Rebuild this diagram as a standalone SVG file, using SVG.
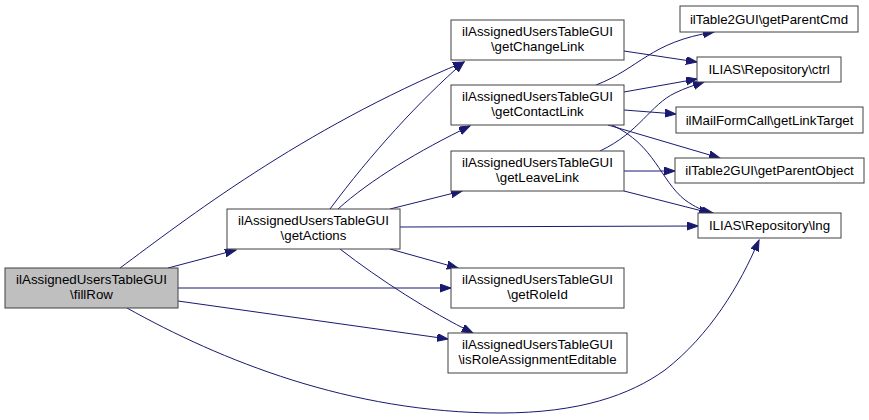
<svg xmlns="http://www.w3.org/2000/svg" width="869" height="420" viewBox="0 0 869 420">
<style>
.n rect{fill:#fff;stroke:#404040;stroke-width:1}
.n text{font-family:"Liberation Sans",Arial,sans-serif;font-size:13.3px;text-anchor:middle;fill:#000}
.e path{fill:none;stroke:#191970;stroke-width:1;marker-end:url(#ah)}
</style>
<defs>
<marker id="ah" markerUnits="userSpaceOnUse" markerWidth="12" markerHeight="9" refX="11" refY="4" orient="auto">
<path d="M0,0 L11,4 L0,8 z" fill="#191970" stroke="#191970"/>
</marker>
</defs>
<rect width="869" height="420" fill="#fff"/>
<g id="edges" class="e">
<path d="M120,268 C185,220 300,130 464,62"/>
<path d="M168,268 L236,250"/>
<path d="M178,288 L451,288"/>
<path d="M178,301 L448,339"/>
<path d="M127,308 C220,360 350,413 500,413 C580,413 630,395 665,370 C710,335 740,285 759,240"/>
<path d="M330,209 C370,155 420,100 464,62"/>
<path d="M338,209 C370,180 420,150 470,126"/>
<path d="M390,209 L462,191"/>
<path d="M400,227 L698,226"/>
<path d="M390,249 L458,268"/>
<path d="M340,249 C380,280 430,312 473,333"/>
<path d="M624,51 L697,62"/>
<path d="M596,85 C640,68 650,42 714,32"/>
<path d="M624,92 L697,79"/>
<path d="M624,110 L676,114"/>
<path d="M608,125 L720,158"/>
<path d="M612,125 C655,145 660,180 685,200 C695,207 703,211 713,213"/>
<path d="M600,151 C640,132 650,105 675,93 C685,88 695,85 704,82"/>
<path d="M624,171 L675,171"/>
<path d="M624,191 L710,213"/>
</g>
<g id="fillRow" class="n"><rect x="5" y="268" width="173" height="40" style="fill:#bfbfbf"/><text x="91.5" y="284">ilAssignedUsersTableGUI</text><text x="91.5" y="299">\fillRow</text></g>
<g id="getActions" class="n"><rect x="227" y="209" width="173" height="40"/><text x="313.5" y="225">ilAssignedUsersTableGUI</text><text x="313.5" y="240">\getActions</text></g>
<g id="getChangeLink" class="n"><rect x="451" y="20" width="173" height="40"/><text x="537.5" y="36">ilAssignedUsersTableGUI</text><text x="537.5" y="51">\getChangeLink</text></g>
<g id="getContactLink" class="n"><rect x="451" y="85" width="173" height="40"/><text x="537.5" y="101">ilAssignedUsersTableGUI</text><text x="537.5" y="116">\getContactLink</text></g>
<g id="getLeaveLink" class="n"><rect x="451" y="151" width="173" height="40"/><text x="537.5" y="167">ilAssignedUsersTableGUI</text><text x="537.5" y="182">\getLeaveLink</text></g>
<g id="getRoleId" class="n"><rect x="451" y="268" width="173" height="40"/><text x="537.5" y="284">ilAssignedUsersTableGUI</text><text x="537.5" y="299">\getRoleId</text></g>
<g id="isRoleAssignmentEditable" class="n"><rect x="448" y="333" width="179" height="40"/><text x="537.5" y="349">ilAssignedUsersTableGUI</text><text x="537.5" y="364">\isRoleAssignmentEditable</text></g>
<g id="getParentCmd" class="n"><rect x="680" y="6" width="178" height="26"/><text x="769" y="23.5">ilTable2GUI\getParentCmd</text></g>
<g id="ctrl" class="n"><rect x="697" y="57" width="144" height="25"/><text x="769" y="74">ILIAS\Repository\ctrl</text></g>
<g id="getLinkTarget" class="n"><rect x="676" y="107" width="187" height="26"/><text x="769.5" y="124.5">ilMailFormCall\getLinkTarget</text></g>
<g id="getParentObject" class="n"><rect x="675" y="158" width="189" height="25"/><text x="769.5" y="175">ilTable2GUI\getParentObject</text></g>
<g id="lng" class="n"><rect x="698" y="213" width="143" height="25"/><text x="769.5" y="230">ILIAS\Repository\lng</text></g>
</svg>
